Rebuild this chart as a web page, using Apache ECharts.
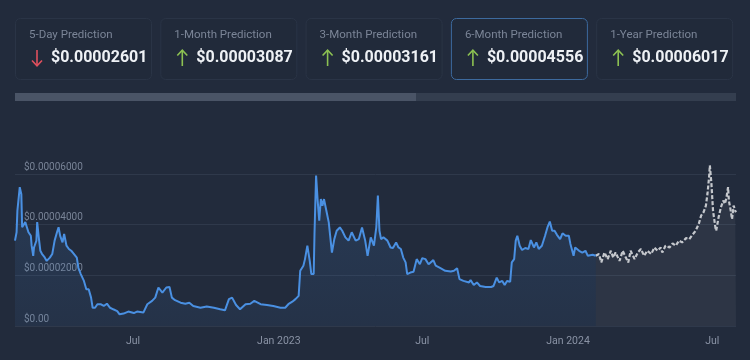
<!DOCTYPE html>
<html>
<head>
<meta charset="utf-8">
<script src="https://cdn.jsdelivr.net/npm/echarts@6/dist/echarts.min.js"></script>
<style>
html,body{margin:0;padding:0;background:#222b3c;}
#c{width:750px;height:360px;}
</style>
</head>
<body>
<div id="c"></div>
<script>
// Prediction cards
const cardTitles = ['5-Day Prediction', '1-Month Prediction', '3-Month Prediction', '6-Month Prediction', '1-Year Prediction'];
const cardValues = ['$0.00002601', '$0.00003087', '$0.00003161', '$0.00004556', '$0.00006017'];
const cardDirections = ['down', 'up', 'up', 'up', 'up'];
const selectedCard = 3;

// Y axis ticks (values in units of 1e-5 USD)
const yTicks = [0, 2, 4, 6];

// Historical price (units of 1e-5 USD)
const histDates = ['2022-02-02','2022-02-04','2022-02-05','2022-02-08','2022-02-10','2022-02-11','2022-02-13','2022-02-15','2022-02-17','2022-02-19','2022-02-22','2022-02-23','2022-02-25','2022-02-26','2022-03-01','2022-03-02','2022-03-04','2022-03-06','2022-03-08','2022-03-11','2022-03-14','2022-03-18','2022-03-21','2022-03-24','2022-03-27','2022-03-29','2022-03-31','2022-04-03','2022-04-05','2022-04-08','2022-04-11','2022-04-14','2022-04-17','2022-04-21','2022-04-23','2022-04-26','2022-04-30','2022-05-03','2022-05-06','2022-05-09','2022-05-11','2022-05-14','2022-05-17','2022-05-21','2022-05-25','2022-05-29','2022-06-02','2022-06-06','2022-06-11','2022-06-14','2022-06-19','2022-06-25','2022-07-02','2022-07-06','2022-07-14','2022-07-19','2022-07-25','2022-07-29','2022-08-02','2022-08-07','2022-08-09','2022-08-12','2022-08-16','2022-08-19','2022-08-23','2022-08-30','2022-09-05','2022-09-10','2022-09-15','2022-09-24','2022-10-02','2022-10-11','2022-10-19','2022-10-25','2022-10-30','2022-11-03','2022-11-08','2022-11-13','2022-11-20','2022-11-26','2022-12-01','2022-12-02','2022-12-09','2022-12-17','2022-12-25','2023-01-03','2023-01-09','2023-01-13','2023-01-18','2023-01-22','2023-01-26','2023-01-28','2023-02-01','2023-02-03','2023-02-06','2023-02-09','2023-02-11','2023-02-14','2023-02-15','2023-02-17','2023-02-19','2023-02-21','2023-02-23','2023-02-25','2023-02-27','2023-03-02','2023-03-05','2023-03-07','2023-03-09','2023-03-12','2023-03-15','2023-03-19','2023-03-22','2023-03-26','2023-03-30','2023-04-03','2023-04-08','2023-04-12','2023-04-16','2023-04-20','2023-04-23','2023-04-27','2023-05-01','2023-05-04','2023-05-06','2023-05-08','2023-05-10','2023-05-13','2023-05-18','2023-05-22','2023-05-25','2023-05-29','2023-06-01','2023-06-04','2023-06-07','2023-06-10','2023-06-12','2023-06-16','2023-06-20','2023-06-24','2023-06-28','2023-07-01','2023-07-05','2023-07-09','2023-07-15','2023-07-18','2023-07-24','2023-07-30','2023-08-06','2023-08-10','2023-08-14','2023-08-17','2023-08-22','2023-08-29','2023-08-31','2023-09-04','2023-09-08','2023-09-12','2023-09-19','2023-09-26','2023-09-29','2023-10-03','2023-10-06','2023-10-10','2023-10-13','2023-10-16','2023-10-20','2023-10-22','2023-10-25','2023-10-27','2023-10-29','2023-11-01','2023-11-04','2023-11-08','2023-11-12','2023-11-15','2023-11-19','2023-11-22','2023-11-25','2023-11-29','2023-12-03','2023-12-06','2023-12-09','2023-12-12','2023-12-15','2023-12-18','2023-12-22','2023-12-25','2023-12-29','2024-01-02','2024-01-04','2024-01-08','2024-01-10','2024-01-15','2024-01-19','2024-01-23','2024-01-26','2024-02-01','2024-02-05'];
const histValues = [3.37,3.7,4.55,5.48,5.2,3.9,3.83,4.1,3.9,3.7,3.56,3.17,2.77,3.1,3.37,4.1,3.5,2.97,2.85,2.73,2.57,2.7,2.84,3.37,3.7,3.9,3.56,3.3,3.63,3.17,3.04,2.97,2.86,2.7,2.3,2.05,1.78,1.45,1.45,1.12,0.72,0.72,0.86,0.86,0.79,0.88,0.72,0.66,0.59,0.46,0.49,0.57,0.51,0.57,0.53,0.86,0.99,1.12,1.52,1.32,1.39,1.52,1.54,1.12,1.02,0.92,0.88,0.92,0.79,0.72,0.77,0.72,0.66,0.62,1.06,1.12,0.83,0.66,0.86,0.88,0.99,0.99,0.86,0.83,0.79,0.72,0.72,0.86,0.96,1.06,1.19,2.18,2.38,2.64,3.17,2.57,2.05,2.05,3.63,5.94,4.95,4.16,5.01,4.75,5.01,4.55,4.09,4.16,2.9,3.43,3.76,3.89,3.76,3.5,3.37,3.7,3.37,3.43,3.89,3.37,2.77,3.5,3.17,3.89,5.15,3.76,3.43,3.5,3.37,3.1,3.08,3.3,3.1,3.04,2.7,2.51,2.05,2.11,2.14,2.64,2.44,2.68,2.64,2.44,2.6,2.38,2.28,2.18,2.15,2.18,2.28,1.85,1.78,1.72,1.81,1.62,1.72,1.58,1.54,1.54,1.58,1.91,1.72,1.78,1.62,1.78,1.75,2.51,2.64,3.37,3.56,3.17,3.0,3.08,3.04,3.39,3.1,3.3,3.04,3.17,3.56,3.89,4.12,3.76,3.76,3.6,3.43,3.66,3.56,3.56,3.24,2.77,3.1,2.97,2.9,2.97,2.77,2.81,2.77];

// Forecast price (units of 1e-5 USD)
const forecastDates = ['2024-02-05','2024-02-09','2024-02-12','2024-02-16','2024-02-20','2024-02-24','2024-02-27','2024-03-01','2024-03-06','2024-03-10','2024-03-14','2024-03-17','2024-03-20','2024-03-25','2024-03-29','2024-04-02','2024-04-06','2024-04-10','2024-04-15','2024-04-19','2024-04-23','2024-04-27','2024-04-29','2024-05-03','2024-05-08','2024-05-12','2024-05-16','2024-05-20','2024-05-24','2024-05-29','2024-06-02','2024-06-06','2024-06-10','2024-06-14','2024-06-17','2024-06-20','2024-06-23','2024-06-25','2024-06-27','2024-06-28','2024-06-30','2024-07-02','2024-07-05','2024-07-06','2024-07-09','2024-07-12','2024-07-15','2024-07-17','2024-07-19','2024-07-21','2024-07-22','2024-07-24','2024-07-26','2024-07-28','2024-07-30','2024-07-31'];
const forecastValues = [2.77,2.84,2.51,2.9,2.64,2.97,2.7,2.9,2.57,2.97,2.7,2.51,2.97,2.64,2.9,3.04,2.77,2.97,2.84,3.1,2.97,3.1,2.9,3.17,3.1,3.26,3.17,3.37,3.3,3.47,3.43,3.6,3.76,4.03,4.36,4.49,4.75,5.22,5.87,6.34,5.61,4.55,3.89,3.76,4.29,4.69,4.95,4.82,5.08,5.48,4.95,4.62,4.22,4.75,4.55,4.49];

const chart = echarts.init(document.getElementById('c'), null, {renderer: 'canvas'});

const FONT = 'Roboto, "Noto Sans", sans-serif';
const graphics = [];
const cardX0 = 15, cardStep = 145.3, cardW = 136, cardY = 18, cardH = 61;
cardTitles.forEach((t, i) => {
  const x = cardX0 + i * cardStep;
  const sel = i === selectedCard;
  graphics.push({
    type: 'rect', left: x, top: cardY,
    shape: {width: cardW, height: cardH, r: 5},
    style: {fill: '#212a3a', stroke: sel ? '#3d6a9e' : '#2a3446', lineWidth: 1}
  });
  graphics.push({
    type: 'text', x: x + 14, y: 35,
    style: {text: t, fill: '#7b8597', font: '11.5px ' + FONT, textVerticalAlign: 'middle'}
  });
  const cx = x + 22;
  const up = cardDirections[i] === 'up';
  const col = up ? '#8cc152' : '#e0505e';
  graphics.push({
    type: 'line', shape: {x1: cx, y1: 50, x2: cx, y2: 66},
    style: {stroke: col, lineWidth: 1.6}
  });
  graphics.push({
    type: 'polyline',
    shape: {points: up ? [[cx - 5, 55.5], [cx, 50.2], [cx + 5, 55.5]] : [[cx - 5, 60.5], [cx, 65.8], [cx + 5, 60.5]]},
    style: {stroke: col, lineWidth: 1.6, fill: null}
  });
  graphics.push({
    type: 'text', x: x + 36, y: 58,
    style: {text: cardValues[i], fill: '#eef1f5', font: 'bold 16px ' + FONT, textVerticalAlign: 'middle'}
  });
});
// scroll bar
graphics.push({type: 'rect', left: 15, top: 93, shape: {width: 721, height: 8}, style: {fill: '#343e4f'}});
graphics.push({type: 'rect', left: 15, top: 93, shape: {width: 401, height: 8}, style: {fill: '#4a5466'}});

const option = {
  backgroundColor: '#222b3c',
  animation: false,
  graphic: graphics,
  grid: {left: 15, right: 14, top: 174, bottom: 34, containLabel: false},
  xAxis: {
    type: 'time',
    min: '2022-02-02',
    max: '2024-07-31',
    splitNumber: 10,
    axisLine: {show: false},
    axisTick: {show: false},
    splitLine: {show: false},
    axisLabel: {
      color: '#8a93a5', fontSize: 10.5, fontFamily: FONT, margin: 10,
      showMinLabel: false, showMaxLabel: false,
      formatter: function (v) {
        const d = new Date(v);
        if (d.getDate() !== 1 || d.getHours() !== 0) return '';
        if (d.getMonth() === 0) return 'Jan ' + d.getFullYear();
        if (d.getMonth() === 6) return 'Jul';
        return '';
      }
    }
  },
  yAxis: {
    type: 'value',
    min: yTicks[0],
    max: yTicks[yTicks.length - 1],
    interval: yTicks[1] - yTicks[0],
    axisLine: {show: false},
    axisTick: {show: false},
    splitLine: {lineStyle: {color: '#2f394b', width: 1}},
    axisLabel: {
      inside: true, margin: 9, color: '#788396', fontSize: 10, fontFamily: FONT,
      verticalAlign: 'bottom', padding: [0, 0, 2, 0],
      formatter: function (v) { return v === 0 ? '$0.00' : '$' + (v / 1e5).toFixed(8); }
    }
  },
  series: [
    {
      type: 'line', name: 'Price',
      data: histDates.map((d, i) => [d, histValues[i]]),
      showSymbol: false, smooth: false, clip: false,
      lineStyle: {color: '#4a90e2', width: 2},
      itemStyle: {color: '#4a90e2'},
      areaStyle: {
        color: new echarts.graphic.LinearGradient(0, 0, 0, 1, [
          {offset: 0, color: 'rgba(74,144,226,0.22)'},
          {offset: 1, color: 'rgba(74,144,226,0.10)'}
        ]),
        origin: 'start'
      },
      z: 3
    },
    {
      type: 'line', name: 'Prediction',
      data: forecastDates.map((d, i) => [d, forecastValues[i]]),
      showSymbol: false, smooth: false, clip: false,
      lineStyle: {color: '#c4c7cc', width: 2.2, type: [4, 2]},
      itemStyle: {color: '#c4c7cc'},
      areaStyle: {color: 'rgba(255,255,255,0.07)', origin: 'start'},
      z: 2
    }
  ]
};
chart.setOption(option);
</script>
</body>
</html>
